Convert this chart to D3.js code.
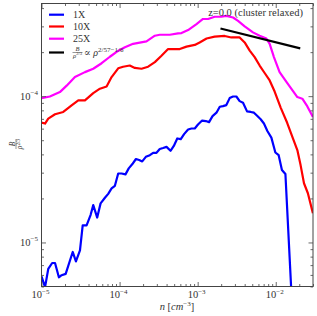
<!DOCTYPE html>
<html><head><meta charset="utf-8">
<script src="https://cdn.jsdelivr.net/npm/d3@7"></script>
<style>
body{margin:0;background:#fff}
svg{display:block}
text{font-family:"Liberation Serif","DejaVu Serif",serif;fill:#333}
</style>
</head><body>
<svg id="c" width="317" height="316"></svg>
<script>
// ---- data ----
const n1X=[1.0e-5,1.11e-5,1.22e-5,1.37e-5,1.49e-5,1.67e-5,1.81e-5,2.04e-5,2.51e-5,2.76e-5,3.11e-5,3.37e-5,3.78e-5,4.26e-5,4.60e-5,5.17e-5,5.71e-5,6.49e-5,7.15e-5,7.90e-5,8.71e-5,9.60e-5,1.06e-4,1.19e-4,1.31e-4,1.45e-4,1.62e-4,1.78e-4,1.95e-4,2.17e-4,2.44e-4,2.69e-4,2.97e-4,3.27e-4,3.61e-4,3.99e-4,4.49e-4,4.95e-4,5.48e-4,6.08e-4,6.70e-4,7.54e-4,8.33e-4,9.18e-4,1.01e-3,1.14e-3,1.27e-3,1.40e-3,1.55e-3,1.74e-3,1.92e-3,2.11e-3,2.33e-3,2.57e-3,2.84e-3,3.13e-3,3.45e-3,3.81e-3,4.29e-3,4.78e-3,5.26e-3,5.82e-3,6.41e-3,7.06e-3,7.81e-3,8.79e-3,9.89e-3,1.09e-2,1.20e-2,1.33e-2,1.65e-2];
const b1X=[5.87e-6,4.95e-6,6.59e-6,7.24e-6,7.24e-6,5.78e-6,5.97e-6,6.10e-6,8.61e-6,7.43e-6,8.83e-6,1.31e-5,1.31e-5,1.545e-5,1.80e-5,1.48e-5,1.85e-5,2.02e-5,2.15e-5,2.34e-5,2.44e-5,2.96e-5,2.96e-5,2.92e-5,3.21e-5,3.42e-5,3.72e-5,3.66e-5,3.58e-5,3.85e-5,3.95e-5,4.10e-5,4.10e-5,4.35e-5,4.42e-5,4.50e-5,4.23e-5,4.57e-5,5.14e-5,5.08e-5,5.50e-5,5.92e-5,6.01e-5,6.01e-5,6.40e-5,6.81e-5,6.76e-5,6.65e-5,7.31e-5,7.71e-5,8.47e-5,8.55e-5,8.69e-5,9.70e-5,9.95e-5,9.95e-5,9.25e-5,9.02e-5,7.87e-5,7.80e-5,7.71e-5,7.31e-5,6.95e-5,6.50e-5,5.78e-5,5.21e-5,4.12e-5,3.95e-5,3.13e-5,2.94e-5,3.0e-6];

const n10X=[1.0e-5,1.11e-5,1.22e-5,1.49e-5,1.90e-5,2.43e-5,2.96e-5,3.60e-5,4.60e-5,5.60e-5,6.82e-5,7.90e-5,9.60e-5,1.11e-4,1.35e-4,1.57e-4,1.91e-4,2.32e-4,2.83e-4,3.44e-4,4.18e-4,5.09e-4,5.90e-4,7.19e-4,9.18e-4,1.06e-3,1.30e-3,1.65e-3,2.22e-3,2.70e-3,3.45e-3,4.00e-3,4.64e-3,5.37e-3,6.22e-3,7.21e-3,8.36e-3,9.68e-3,1.16e-2,1.40e-2,1.66e-2,1.89e-2,2.08e-2,2.30e-2,2.58e-2,2.99e-2];
const b10X=[6.59e-5,6.50e-5,7.03e-5,7.52e-5,7.80e-5,8.65e-5,9.35e-5,9.35e-5,1.05e-4,1.125e-4,1.165e-4,1.35e-4,1.55e-4,1.59e-4,1.62e-4,1.56e-4,1.54e-4,1.59e-4,1.71e-4,1.89e-4,2.10e-4,2.10e-4,2.10e-4,2.18e-4,2.24e-4,2.33e-4,2.48e-4,2.55e-4,2.58e-4,2.52e-4,2.52e-4,2.33e-4,2.05e-4,1.85e-4,1.62e-4,1.44e-4,1.28e-4,1.076e-4,8.32e-5,6.58e-5,5.14e-5,4.28e-5,3.38e-5,2.54e-5,2.17e-5,1.585e-5];

const n25X=[1.0e-5,1.28e-5,1.72e-5,2.10e-5,2.68e-5,3.60e-5,4.60e-5,5.89e-5,7.52e-5,9.16e-5,1.17e-4,1.49e-4,2.21e-4,2.83e-4,3.27e-4,4.40e-4,5.61e-4,6.21e-4,7.54e-4,9.66e-4,1.17e-3,1.36e-3,1.65e-3,2.01e-3,2.33e-3,2.84e-3,3.29e-3,4.00e-3,5.11e-3,6.22e-3,7.59e-3,8.36e-3,9.48e-3,1.12e-2,1.37e-2,1.58e-2,1.89e-2,2.19e-2,2.54e-2,2.99e-2];
const b25X=[9.70e-5,9.95e-5,1.066e-4,1.18e-4,1.35e-4,1.46e-4,1.54e-4,1.68e-4,1.86e-4,2.01e-4,2.16e-4,2.28e-4,2.37e-4,2.59e-4,2.63e-4,2.63e-4,2.69e-4,2.70e-4,2.83e-4,3.11e-4,3.37e-4,3.37e-4,3.49e-4,3.50e-4,3.54e-4,3.45e-4,3.27e-4,3.00e-4,2.73e-4,2.59e-4,2.48e-4,2.28e-4,1.85e-4,1.46e-4,1.25e-4,1.125e-4,9.86e-5,9.61e-5,8.51e-5,7.21e-5];

const nFit=[1.96e-3,2.06e-2];
const bFit=[2.90e-4,2.12e-4];

const seriesNames=["1X","10X","25X"];
const xMajorTicks=[1e-5,1e-4,1e-3,1e-2];
const xTickExponents=["−5","−4","−3","−2"];
const yMajorTicks=[1e-5,1e-4];
const yTickExponents=["−5","−4"];
const titleText="z=0.0 (cluster relaxed)";

// ---- styles / layout ----
const colors=["#0000ff","#ff0000","#ff00ff"];
const L=41.5,R=313,T=3.5,B=286.5;

const svg=d3.select("#c");
const x=d3.scaleLog().domain([1e-5,0.03]).range([L,R]);
const y=d3.scaleLog().domain([5e-6,4.3e-4]).range([B,T]);

function minors(dom){
  const out=[];
  for(let k=-7;k<=0;k++)for(let m=2;m<=9;m++){const v=m*Math.pow(10,k);if(v>=dom[0]*0.999&&v<=dom[1]*1.001)out.push(v);}
  return out;
}
const xMinor=minors(x.domain()), yMinor=minors(y.domain());

svg.append("clipPath").attr("id","clip").append("rect").attr("x",L).attr("y",T).attr("width",R-L).attr("height",B-T);

const line=d3.line().x(d=>x(d[0])).y(d=>y(d[1]));
const g=svg.append("g").attr("clip-path","url(#clip)");
const series=[[n1X,b1X],[n10X,b10X],[n25X,b25X]];
series.forEach((s,i)=>{
  g.append("path").datum(d3.zip(s[0],s[1])).attr("d",line)
   .attr("fill","none").attr("stroke",colors[i]).attr("stroke-width",2.2).attr("stroke-linejoin","round");
});
g.append("path").datum(d3.zip(nFit,bFit)).attr("d",line).attr("fill","none").attr("stroke","#000").attr("stroke-width",2.2);

// axes (ticks pointing inwards on all four sides)
function addAxis(axisFn,scale,vals,size,tr){
  const a=svg.append("g").attr("transform",tr).call(axisFn(scale).tickValues(vals).tickSize(-size).tickFormat(""));
  a.select(".domain").remove();
  a.selectAll("line").attr("stroke","#444").attr("stroke-width",0.8);
}
addAxis(d3.axisBottom,x,xMajorTicks,4.5,`translate(0,${B})`);
addAxis(d3.axisBottom,x,xMinor,2.5,`translate(0,${B})`);
addAxis(d3.axisTop,x,xMajorTicks,4.5,`translate(0,${T})`);
addAxis(d3.axisTop,x,xMinor,2.5,`translate(0,${T})`);
addAxis(d3.axisLeft,y,yMajorTicks,4.5,`translate(${L},0)`);
addAxis(d3.axisLeft,y,yMinor,2.5,`translate(${L},0)`);
addAxis(d3.axisRight,y,yMajorTicks,4.5,`translate(${R},0)`);
addAxis(d3.axisRight,y,yMinor,2.5,`translate(${R},0)`);

svg.append("rect").attr("x",L).attr("y",T).attr("width",R-L).attr("height",B-T)
  .attr("fill","none").attr("stroke","#444").attr("stroke-width",1);

// tick labels
xMajorTicks.forEach((v,i)=>{
  const t=svg.append("text").attr("x",x(v)-1).attr("y",298).attr("text-anchor","middle").attr("font-size",10.5);
  t.append("tspan").text("10");
  t.append("tspan").attr("dy",-4.5).attr("font-size",7).text(xTickExponents[i]);
});
yMajorTicks.forEach((v,i)=>{
  const t=svg.append("text").attr("x",38).attr("y",y(v)+3.5).attr("text-anchor","end").attr("font-size",10.5);
  t.append("tspan").text("10");
  t.append("tspan").attr("dy",-4.5).attr("font-size",7).text(yTickExponents[i]);
});

// x label
const xl=svg.append("text").attr("x",177).attr("y",310).attr("text-anchor","middle").attr("font-size",10.5);
xl.append("tspan").attr("font-style","italic").text("n");
xl.append("tspan").text("  [");
xl.append("tspan").attr("font-style","italic").text("cm");
xl.append("tspan").attr("dy",-4.5).attr("font-size",7).text("−3");
xl.append("tspan").attr("dy",4.5).text("]");

// y label: fraction B / rho^{2/3}, rotated
function fraction(parent,cx,cy,fs){
  const f=parent.append("g").attr("transform",`translate(${cx},${cy})`);
  f.append("text").attr("x",0).attr("y",-1.5).attr("text-anchor","middle").attr("font-size",fs).attr("font-style","italic").text("B");
  f.append("line").attr("x1",-5).attr("x2",5).attr("y1",0).attr("y2",0).attr("stroke","#333").attr("stroke-width",0.5);
  const d=f.append("text").attr("x",0).attr("y",fs*0.8).attr("text-anchor","middle").attr("font-size",fs);
  d.append("tspan").attr("font-style","italic").text("ρ");
  d.append("tspan").attr("dy",-2.5).attr("font-size",fs*0.7).text("2/3");
  return f;
}
const yl=svg.append("g").attr("transform","translate(16,144) rotate(-90)");
fraction(yl,0,0,7.5);

// title
svg.append("text").attr("x",303).attr("y",15.5).attr("text-anchor","end").attr("font-size",10.5).text(titleText);

// legend
const legY=[14.7,26.5,38.7,52.5];
seriesNames.forEach((nm,i)=>{
  svg.append("line").attr("x1",49).attr("x2",64).attr("y1",legY[i]).attr("y2",legY[i]).attr("stroke",colors[i]).attr("stroke-width",2.2);
  svg.append("text").attr("x",73).attr("y",legY[i]+3.5).attr("font-size",10).text(nm);
});
svg.append("line").attr("x1",49).attr("x2",64).attr("y1",legY[3]).attr("y2",legY[3]).attr("stroke","#000").attr("stroke-width",2.2);
fraction(svg,77.5,legY[3],6.5);
const lt=svg.append("text").attr("x",84).attr("y",legY[3]+3.5).attr("font-size",10);
lt.append("tspan").text("∝ ");
lt.append("tspan").attr("font-style","italic").text("ρ");
lt.append("tspan").attr("dy",-4.5).attr("font-size",7).text("2/57−1/6");
</script>
</body></html>
